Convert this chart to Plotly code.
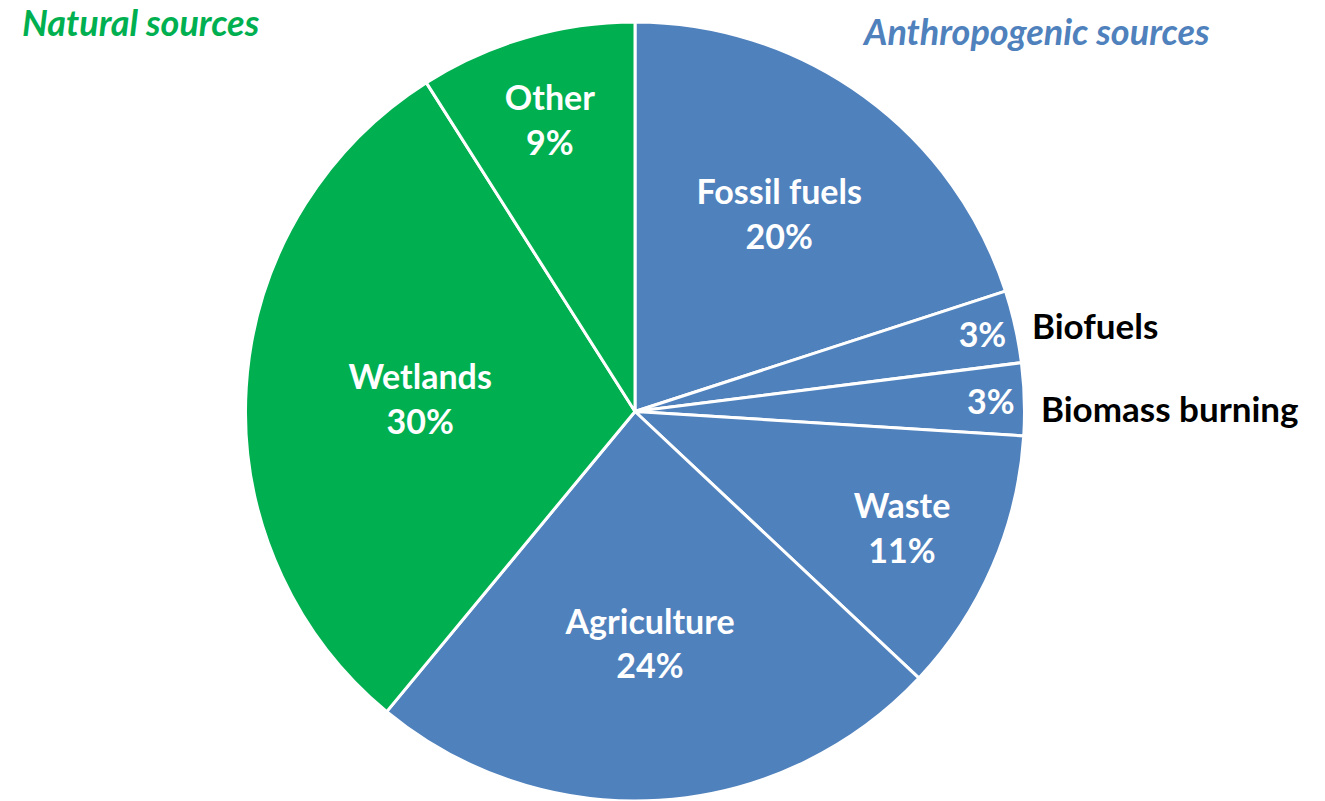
import plotly.graph_objects as go

labels = ["Fossil fuels", "Biofuels", "Biomass burning", "Waste", "Agriculture", "Wetlands", "Other"]
values = [20, 3, 3, 11, 24, 30, 9]
groups = ["anthro", "anthro", "anthro", "anthro", "anthro", "natural", "natural"]
inside_names = [True, False, False, True, True, True, True]

BLUE = "#4F81BD"
GREEN = "#00B050"
FONT = "Lato"
W, H, TOP = 1325, 801, 22

colors = [BLUE if g == "anthro" else GREEN for g in groups]
texts = [f"{l}<br>{v}%" if show else f"{v}%" for l, v, show in zip(labels, values, inside_names)]

fig = go.Figure(go.Pie(
    labels=labels,
    values=values,
    text=texts,
    textinfo="text",
    textposition="inside",
    insidetextorientation="horizontal",
    sort=False,
    direction="clockwise",
    rotation=0,
    marker=dict(colors=colors, line=dict(color="white", width=3)),
    textfont=dict(family=FONT, size=34, color="white", weight="bold"),
    domain=dict(x=[0.1685, 0.79], y=[0, 1]),
    showlegend=False,
    hoverinfo="label+percent",
))

def note(text, x, y, size, color):
    fig.add_annotation(text=text, xref="paper", yref="paper",
                       x=x / W, y=1 - (y - TOP) / (H - TOP), xanchor="left", yanchor="middle",
                       showarrow=False, font=dict(family=FONT, size=size, color=color),
                       yshift=0)

note("<b><i>Natural sources</i></b>", 20, 22, 36, GREEN)
note("<b><i>Anthropogenic sources</i></b>", 860, 31, 36, BLUE)
note("<b>" + labels[1] + "</b>", 1030, 325, 35, "black")
note("<b>" + labels[2] + "</b>", 1039, 408, 35, "black")

fig.update_layout(
    width=W, height=H,
    margin=dict(l=0, r=0, t=TOP, b=0),
    paper_bgcolor="white",
    plot_bgcolor="white",
)

fig.write_html("out.html", config={"displayModeBar": False},
               post_script="document.body.style.margin='0';")
